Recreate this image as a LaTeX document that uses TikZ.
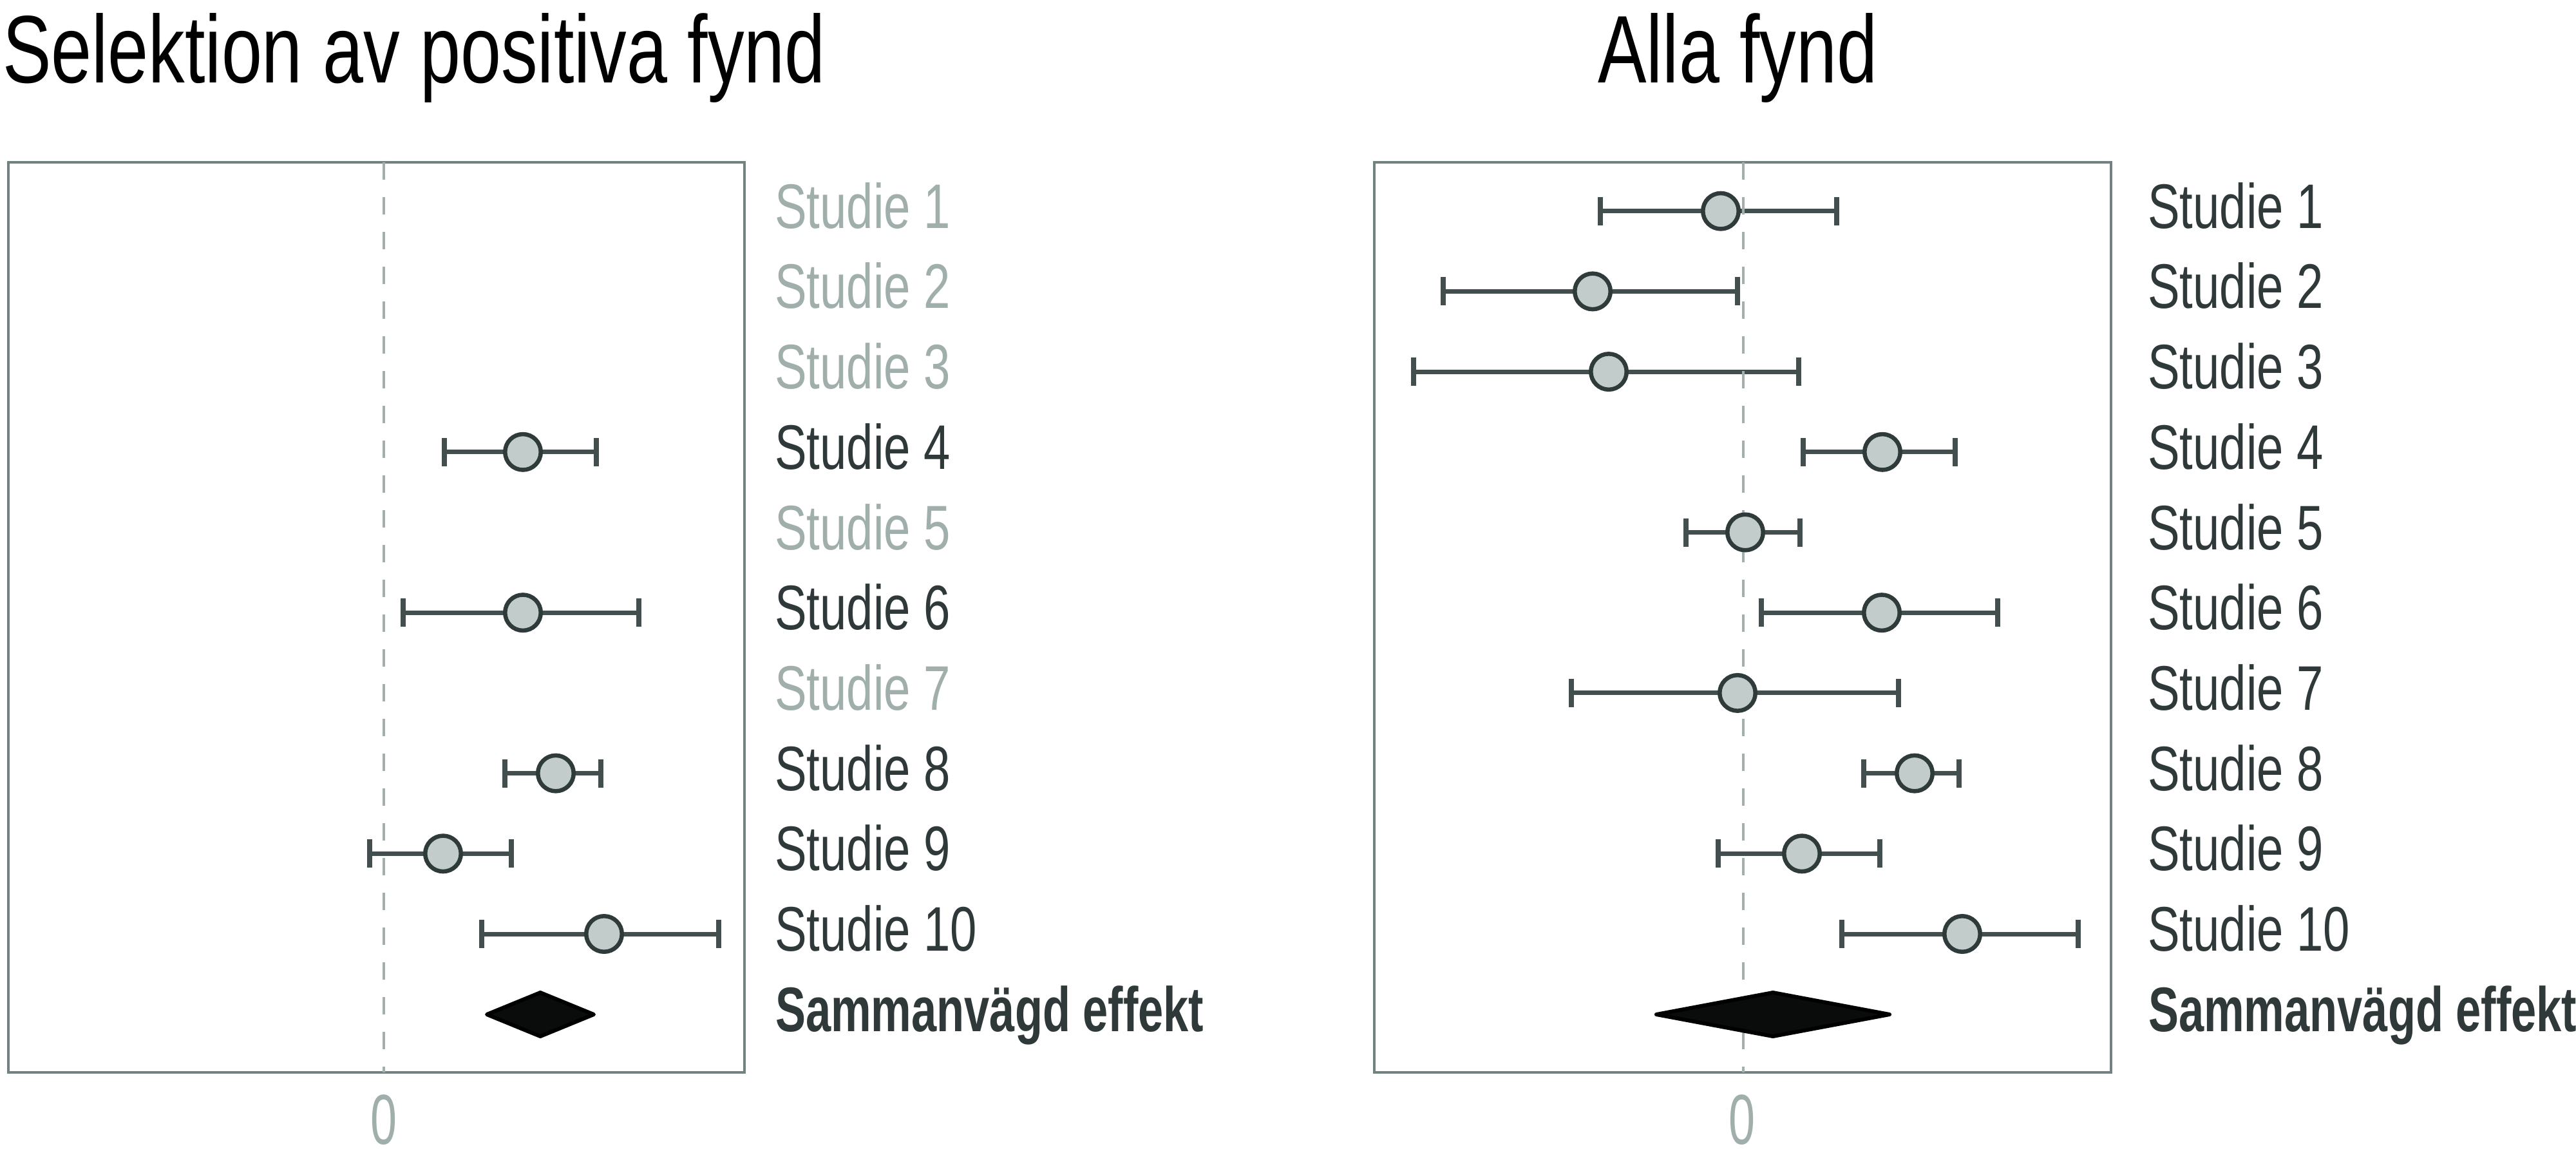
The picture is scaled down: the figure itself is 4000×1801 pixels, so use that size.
\documentclass[tikz,border=0pt]{standalone}
\usepackage{fontspec}
\setmainfont{Liberation Sans}
\newfontfamily\titlefont{Liberation Sans}[FakeStretch=0.76]
\newfontfamily\labelfont{Liberation Sans}[FakeStretch=0.76]
\newfontfamily\boldlabelfont{Liberation Sans}[FakeStretch=0.72]
\newfontfamily\zerofont{Liberation Sans}[FakeStretch=0.67]
\definecolor{boxcol}{HTML}{728281}
\definecolor{dashcol}{HTML}{A3AFAC}
\definecolor{graytext}{HTML}{A1AFAC}
\definecolor{darktext}{HTML}{2F393A}
\definecolor{cicol}{HTML}{434F4F}
\definecolor{ringcol}{HTML}{2F3A3A}
\definecolor{fillcol}{HTML}{C2CCCB}
\definecolor{pooledcol}{HTML}{0A0C0B}
\tikzset{
  panelbox/.style={draw=boxcol, line width=4.5pt},
  zeroline/.style={draw=dashcol, line width=4pt, dash pattern=on 27pt off 27pt},
  ciline/.style={draw=cicol, line width=7pt, line cap=butt},
  cicap/.style={draw=cicol, line width=7.5pt, line cap=butt},
  est/.style={circle, inner sep=0pt, minimum size=55.5pt, draw=ringcol, line width=6.5pt, fill=fillcol},
  pooled/.style={draw=black, line width=6pt, line join=round, fill=pooledcol},
  titletext/.style={inner sep=0pt, anchor=base west, text=black, font=\titlefont\fontsize{149}{152}\selectfont},
  studytext/.style={inner sep=0pt, anchor=base west, text=darktext, font=\labelfont\fontsize{97.8}{100}\selectfont},
  studygray/.style={studytext, text=graytext},
  pooledtext/.style={inner sep=0pt, anchor=base west, text=darktext, font=\boldlabelfont\bfseries\fontsize{97.8}{100}\selectfont},
  zerotext/.style={inner sep=0pt, anchor=base, text=graytext, font=\zerofont\fontsize{110}{112}\selectfont}
}
\def\leftdata{4/812/690/926, 6/812/626/992, 8/863/784/933, 9/688/574/794, 10/938/748/1116}
\def\rightdata{1/2672/2485/2852, 2/2473/2241/2698, 3/2498/2195/2793, 4/2923/2800/3036, 5/2710/2618/2795, 6/2922/2735/3102, 7/2698/2440/2948, 8/2973/2894/3042, 9/2798/2668/2919, 10/3047/2860/3227}
\begin{document}
\begin{tikzpicture}[x=1pt,y=-1pt]
\useasboundingbox[fill=white] (0,0) rectangle (4000,1801);

% titles
\node[titletext] (t1) at (4,128) {Selektion av positiva fynd};
\node[titletext] (t2) at (2481,128) {Alla fynd};

% panels
\draw[panelbox] (13,252) rectangle (1156,1665);
\draw[panelbox] (2134,252) rectangle (3278,1665);

% confidence intervals
\foreach \i/\c/\l/\h in \leftdata {
  \pgfmathsetmacro\yy{327.7+(\i-1)*124.7}
  \coordinate (Llo\i) at (\l,\yy);
  \coordinate (Lhi\i) at (\h,\yy);
  \draw[ciline] (Llo\i) -- (Lhi\i);
  \draw[cicap] ([yshift=22pt]Llo\i) -- ([yshift=-22pt]Llo\i);
  \draw[cicap] ([yshift=22pt]Lhi\i) -- ([yshift=-22pt]Lhi\i);
}
\foreach \i/\c/\l/\h in \rightdata {
  \pgfmathsetmacro\yy{327.7+(\i-1)*124.7}
  \coordinate (Rlo\i) at (\l,\yy);
  \coordinate (Rhi\i) at (\h,\yy);
  \draw[ciline] (Rlo\i) -- (Rhi\i);
  \draw[cicap] ([yshift=22pt]Rlo\i) -- ([yshift=-22pt]Rlo\i);
  \draw[cicap] ([yshift=22pt]Rhi\i) -- ([yshift=-22pt]Rhi\i);
}

% zero lines
\coordinate (LzT) at (596,252);
\coordinate (LzB) at (596,1665);
\coordinate (RzT) at (2707,252);
\coordinate (RzB) at (2707,1665);
\draw[zeroline] (LzT) -- (LzB);
\draw[zeroline] (RzT) -- (RzB);

% point estimates
\foreach \i/\c/\l/\h in \leftdata {
  \pgfmathsetmacro\yy{327.7+(\i-1)*124.7}
  \node[est] (Lc\i) at (\c,\yy) {};
}
\foreach \i/\c/\l/\h in \rightdata {
  \pgfmathsetmacro\yy{327.7+(\i-1)*124.7}
  \node[est] (Rc\i) at (\c,\yy) {};
}

% pooled effects
\draw[pooled] (756,1575) -- (839,1541) -- (922,1575) -- (839,1609) -- cycle;
\draw[pooled] (2572,1575) -- (2753,1541) -- (2934,1575) -- (2753,1609) -- cycle;

% zero labels
\node[zerotext] (z1) at (596,1776) {0};
\node[zerotext] (z2) at (2705,1776) {0};

% study labels, left panel
\node[studygray] (ls1) at (1203,354.2) {Studie 1};
\node[studygray] (ls2) at (1203,478.9) {Studie 2};
\node[studygray] (ls3) at (1203,603.6) {Studie 3};
\node[studytext] (ls4) at (1203,728.3) {Studie 4};
\node[studygray] (ls5) at (1203,853.0) {Studie 5};
\node[studytext] (ls6) at (1203,977.7) {Studie 6};
\node[studygray] (ls7) at (1203,1102.4) {Studie 7};
\node[studytext] (ls8) at (1203,1227.1) {Studie 8};
\node[studytext] (ls9) at (1203,1351.8) {Studie 9};
\node[studytext] (ls10) at (1203,1476.5) {Studie 10};
\node[pooledtext] (lsp) at (1204,1601.2) {Sammanvägd effekt};

% study labels, right panel
\node[studytext] (rs1) at (3335,354.2) {Studie 1};
\node[studytext] (rs2) at (3335,478.9) {Studie 2};
\node[studytext] (rs3) at (3335,603.6) {Studie 3};
\node[studytext] (rs4) at (3335,728.3) {Studie 4};
\node[studytext] (rs5) at (3335,853.0) {Studie 5};
\node[studytext] (rs6) at (3335,977.7) {Studie 6};
\node[studytext] (rs7) at (3335,1102.4) {Studie 7};
\node[studytext] (rs8) at (3335,1227.1) {Studie 8};
\node[studytext] (rs9) at (3335,1351.8) {Studie 9};
\node[studytext] (rs10) at (3335,1476.5) {Studie 10};
\node[pooledtext] (rsp) at (3336,1601.2) {Sammanvägd effekt};
\end{tikzpicture}
\end{document}
